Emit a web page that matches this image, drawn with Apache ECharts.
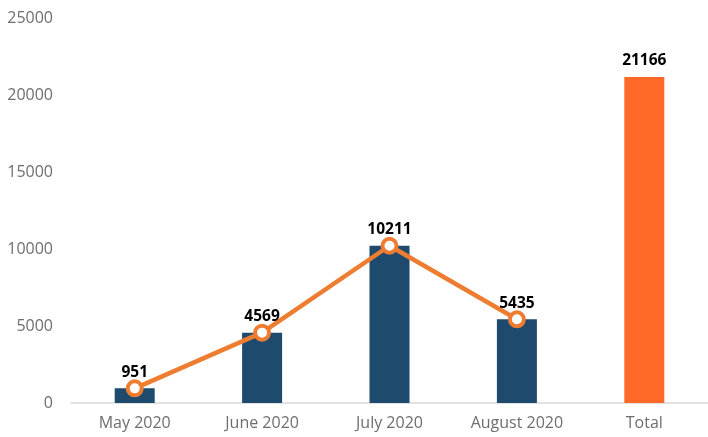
<!DOCTYPE html>
<html>
<head>
<meta charset="utf-8">
<script src="https://cdn.jsdelivr.net/npm/echarts@6/dist/echarts.min.js"></script>
<style>
  html, body { margin: 0; padding: 0; background: #fff; }
  #chart { width: 708px; height: 437px; }
</style>
</head>
<body>
<div id="chart"></div>
<script>
const categories = ['May 2020', 'June 2020', 'July 2020', 'August 2020', 'Total']
const monthlyValues = [951, 4569, 10211, 5435]
const totalValue = 21166
const yTicks = [0, 5000, 10000, 15000, 20000, 25000]

const barData = monthlyValues.map(v => ({ value: v }))
barData.push({
  value: totalValue,
  itemStyle: { color: '#FF6A28' },
  label: { show: true }
})
const lineData = monthlyValues.concat(['-'])

const chart = echarts.init(document.getElementById('chart'))
chart.setOption({
  animation: false,
  textStyle: { fontFamily: 'Open Sans' },
  grid: { left: 71, width: 642, top: 18, bottom: 34 },
  xAxis: {
    type: 'category',
    data: categories,
    axisTick: { show: false },
    axisLine: { lineStyle: { color: '#D9D9D9', width: 1.5 } },
    axisLabel: { color: '#6E6E6E', fontSize: 16, margin: 12 }
  },
  yAxis: {
    type: 'value',
    min: yTicks[0],
    max: yTicks[yTicks.length - 1],
    interval: 5000,
    splitLine: { show: false },
    axisLine: { show: false },
    axisTick: { show: false },
    axisLabel: { color: '#6E6E6E', fontSize: 16, margin: 18, formatter: v => String(v) }
  },
  series: [
    {
      type: 'bar',
      data: barData,
      barWidth: 40,
      itemStyle: { color: '#1D4A6D' },
      label: {
        show: false,
        position: 'top',
        distance: 8,
        color: '#000',
        fontWeight: 'bold',
        fontSize: 15.5
      }
    },
    {
      type: 'line',
      data: lineData,
      symbol: 'circle',
      symbolSize: 14,
      lineStyle: { color: '#EE7D31', width: 4.5 },
      itemStyle: { color: '#fff', borderColor: '#EE7D31', borderWidth: 4 },
      label: {
        show: true,
        position: 'top',
        distance: -1,
        color: '#000',
        fontWeight: 'bold',
        fontSize: 15.5
      },
      z: 5
    }
  ]
})
</script>
</body>
</html>
